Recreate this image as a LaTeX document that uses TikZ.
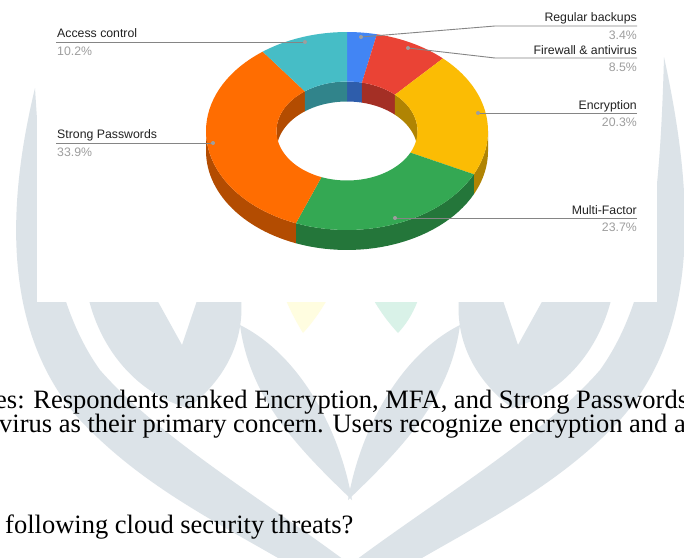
\documentclass[tikz,border=0pt]{standalone}
\usepackage{fontspec}
\setmainfont{Liberation Serif}
\newfontfamily\chartfont{Liberation Sans}
\definecolor{cblue}{HTML}{4285F4}
\definecolor{cbluedk}{HTML}{2E5DAB}
\definecolor{cred}{HTML}{EA4335}
\definecolor{creddk}{HTML}{A42F25}
\definecolor{cyel}{HTML}{FBBC04}
\definecolor{cyeldk}{HTML}{B08403}
\definecolor{cgreen}{HTML}{34A853}
\definecolor{cgreendk}{HTML}{24763A}
\definecolor{corange}{HTML}{FF6D01}
\definecolor{corangedk}{HTML}{B34C01}
\definecolor{cteal}{HTML}{46BDC6}
\definecolor{ctealdk}{HTML}{31848B}
\definecolor{labelgray}{HTML}{222222}
\definecolor{pctgray}{HTML}{9E9E9E}
\definecolor{leadergray}{HTML}{858585}
\definecolor{wmgray}{HTML}{DCE3E8}
\definecolor{wmyellow}{HTML}{FFFDE0}
\definecolor{wmgreen}{HTML}{D9F2E8}
\newcommand\donuttop[3]{\fill[#1] plot[variable=\t,domain=#2:#3,samples=40] ({px(\t,141)},{py(\t,141)}) -- plot[variable=\t,domain=#3:#2,samples=40] ({px(\t,70.5)},{py(\t,70.5)}) -- cycle;}
\newcommand\donutwall[4]{\fill[#1] plot[variable=\t,domain=#2:#3,samples=30] ({px(\t,#4)},{py(\t,#4)}) -- plot[variable=\t,domain=#3:#2,samples=30] ({px(\t,#4)},{py(\t,#4)+20}) -- cycle;}
\begin{document}
\begin{tikzpicture}[x=1pt,y=-1pt,
  declare function={px(\a,\r)=347+\r*sin(\a); py(\a,\r)=131-0.702*\r*cos(\a);},
  lbl/.style={font=\chartfont\fontsize{12.3}{14}\selectfont, text=labelgray, inner sep=0pt},
  pct/.style={font=\chartfont\fontsize{12.3}{14}\selectfont, text=pctgray, inner sep=0pt},
  leader/.style={draw=leadergray, line width=0.9pt},
  dotm/.style={circle, fill=pctgray, inner sep=0pt, minimum size=4pt},
  wm/.style={fill=wmgray},
  body/.style={font=\fontsize{26.5}{30}\selectfont, inner sep=0pt, anchor=base west},
]
\useasboundingbox (0,0) rectangle (684,557);
\clip (0,0) rectangle (684,557);
\fill[white] (0,0) rectangle (684,557);
% ---------- watermark ----------
\fill[wm] (35,88) .. controls (8,200) and (0,330) .. (80,420) .. controls (160,505) and (260,540) .. (345,600) -- (395,600) .. controls (300,520) and (170,450) .. (100,370) .. controls (50,300) and (42,200) .. (35,88) -- cycle;
\fill[wm] (664,57) .. controls (695,200) and (700,330) .. (620,420) .. controls (540,505) and (440,540) .. (355,600) -- (305,600) .. controls (400,520) and (530,450) .. (600,370) .. controls (650,300) and (660,200) .. (664,57) -- cycle;
\fill[wm] (85,280) .. controls (95,350) and (140,395) .. (188,408) .. controls (238,370) and (248,320) .. (238,280) -- (204,280) -- (182,345) -- (146,280) -- cycle;
\fill[wm] (615,280) .. controls (605,350) and (560,395) .. (512,408) .. controls (462,370) and (452,320) .. (462,280) -- (496,280) -- (518,345) -- (554,280) -- cycle;
\fill[wm] (240,325) .. controls (250,400) and (300,450) .. (352,500) .. controls (340,430) and (300,355) .. (240,325) -- cycle;
\fill[wm] (460,325) .. controls (450,400) and (400,450) .. (348,500) .. controls (360,430) and (400,355) .. (460,325) -- cycle;
\fill[wmyellow] (278,280) -- (338,280) .. controls (325,305) and (315,320) .. (303,333) .. controls (295,320) and (287,305) .. (278,280) -- cycle;
\fill[wmgreen] (363,280) -- (424,280) .. controls (418,305) and (410,320) .. (398,333) .. controls (386,320) and (375,305) .. (363,280) -- cycle;
% ---------- chart panel ----------
\fill[white] (37,0) rectangle (657,302);
% outer walls (front)
\donutwall{cyeldk}{90}{115.92}{141}
\donutwall{cgreendk}{115.92}{201.24}{141}
\donutwall{corangedk}{201.24}{270}{141}
% inner walls (back)
\donutwall{cbluedk}{0}{12.24}{70.5}
\donutwall{creddk}{12.24}{42.84}{70.5}
\donutwall{cyeldk}{42.84}{90}{70.5}
\donutwall{corangedk}{270}{323.28}{70.5}
\donutwall{ctealdk}{323.28}{360}{70.5}
% top faces
\donuttop{cblue}{0}{12.24}
\donuttop{cred}{12.24}{42.84}
\donuttop{cyel}{42.84}{115.92}
\donuttop{cgreen}{115.92}{201.24}
\donuttop{corange}{201.24}{323.28}
\donuttop{cteal}{323.28}{360}
% ---------- labels ----------
\node[lbl, anchor=base west] (lAC) at (57,37.7) {Access control};
\node[pct, anchor=base west] (pAC) at (57,55) {10.2\%};
\node[lbl, anchor=base west] (lSP) at (57,138.5) {Strong Passwords};
\node[pct, anchor=base west] (pSP) at (57,156) {33.9\%};
\node[lbl, anchor=base east] (lRB) at (637,21.7) {Regular backups};
\node[pct, anchor=base east] (pRB) at (637,39) {3.4\%};
\node[lbl, anchor=base east] (lFA) at (637,54) {Firewall \& antivirus};
\node[pct, anchor=base east] (pFA) at (637,71) {8.5\%};
\node[lbl, anchor=base east] (lEN) at (637,109) {Encryption};
\node[pct, anchor=base east] (pEN) at (637,126) {20.3\%};
\node[lbl, anchor=base east] (lMF) at (637,214) {Multi-Factor};
\node[pct, anchor=base east] (pMF) at (637,231) {23.7\%};
% leader lines
\coordinate (eAC) at (56,42);   \coordinate (dAC) at (305,42);
\coordinate (eSP) at (56,143);  \coordinate (dSP) at (213,143);
\coordinate (eRB) at (637,26);  \coordinate (kRB) at (495,26);  \coordinate (dRB) at (361,37);
\coordinate (eFA) at (637,58);  \coordinate (kFA) at (495,58);  \coordinate (dFA) at (408,48);
\coordinate (eEN) at (637,113); \coordinate (dEN) at (478,113);
\coordinate (eMF) at (637,218); \coordinate (dMF) at (395,218);
\draw[leader] (eAC) -- (dAC);
\draw[leader] (eSP) -- (dSP);
\draw[leader] (eRB) -- (kRB) -- (dRB);
\draw[leader] (eFA) -- (kFA) -- (dFA);
\draw[leader] (eEN) -- (dEN);
\draw[leader] (eMF) -- (dMF);
\node[dotm] (mAC) at (dAC) {};
\node[dotm] (mSP) at (dSP) {};
\node[dotm] (mRB) at (dRB) {};
\node[dotm] (mFA) at (dFA) {};
\node[dotm] (mEN) at (dEN) {};
\node[dotm] (mMF) at (dMF) {};
% ---------- body text ----------
\node[body] (t1) at (-5,408) {es: Respondents ranked Encryption, MFA, and Strong Passwords};
\node[body] (t2) at (-1,432) {virus as their primary concern. Users recognize encryption and a};
\node[body] (t3) at (5,533) {following cloud security threats?};
\end{tikzpicture}
\end{document}
